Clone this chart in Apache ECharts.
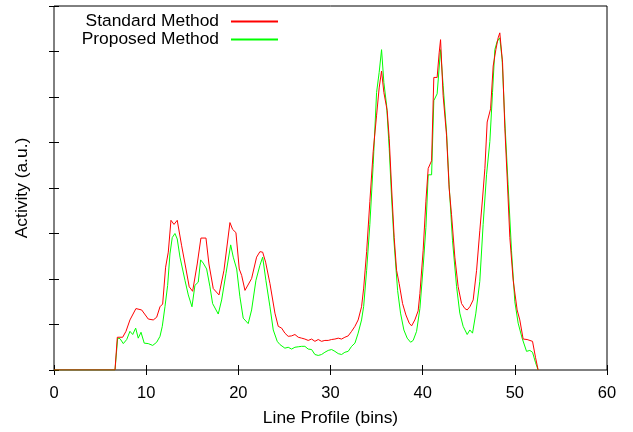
<!DOCTYPE html>
<html>
<head>
<meta charset="utf-8">
<script src="https://cdn.jsdelivr.net/npm/echarts@6/dist/echarts.min.js"></script>
<style>
html,body{margin:0;padding:0;background:#fff;}
#chart{width:633px;height:432px;}
</style>
</head>
<body>
<div id="chart"></div>
<script>
const seriesNames = ["Standard Method", "Proposed Method"];
const xTicks = [0, 10, 20, 30, 40, 50, 60];

const stdBins = [0,6.62,6.87,7.45,7.81,8.24,8.89,9.51,10.23,10.77,11.14,11.50,11.79,12.11,12.40,12.69,13.02,13.37,13.85,14.32,14.67,15.04,15.54,15.94,16.49,16.81,17.28,17.90,18.44,19.09,19.38,19.74,20.10,20.36,20.72,21.44,21.98,22.34,22.64,22.96,23.43,23.97,24.33,24.70,25.05,25.41,25.78,26.14,26.50,26.87,27.22,27.58,27.95,28.31,28.67,29.03,29.39,29.75,30.12,30.48,30.84,31.20,31.56,31.92,32.29,32.65,33.00,33.37,33.60,33.92,34.27,34.63,35.00,35.28,35.54,35.79,36.15,36.37,36.63,36.91,37.17,37.45,37.82,38.18,38.54,38.80,39.15,39.51,39.70,40.05,40.35,40.60,40.97,41.21,41.57,41.79,41.94,42.22,42.59,42.87,43.13,43.49,43.85,44.22,44.58,44.83,45.12,45.48,45.85,46.20,46.50,46.75,47.00,47.37,47.65,47.94,48.19,48.37,48.67,48.92,49.17,49.46,49.82,50.25,50.54,50.90,51.33,51.92,52.25,52.53];
const stdValues = [0,0,0.72,0.72,0.85,1.10,1.35,1.32,1.12,1.10,1.16,1.39,1.45,2.26,2.59,3.29,3.20,3.29,2.73,2.22,1.83,1.73,2.33,2.90,2.90,2.33,1.79,1.65,2.19,3.24,3.09,3.02,2.22,2.08,1.75,2.01,2.48,2.60,2.59,2.37,1.90,1.25,0.96,0.92,0.81,0.74,0.75,0.78,0.72,0.70,0.68,0.65,0.68,0.63,0.67,0.63,0.65,0.65,0.67,0.68,0.70,0.68,0.72,0.75,0.85,0.96,1.10,1.39,1.80,2.60,3.70,4.80,5.60,6.20,6.57,6.10,5.70,5.09,4.00,2.91,2.19,1.90,1.46,1.21,1.03,0.97,1.10,1.30,1.68,2.62,3.71,4.43,4.60,6.43,6.43,6.97,7.26,6.03,5.16,4.00,3.42,2.48,1.83,1.46,1.35,1.32,1.39,1.54,2.19,3.06,3.78,4.43,5.45,5.74,6.68,7.04,7.30,7.41,6.75,5.30,4.22,2.91,1.97,1.32,1.10,0.68,0.67,0.63,0.27,0];

const propBins = [0,6.62,6.91,7.16,7.52,7.89,8.24,8.54,8.86,9.14,9.44,9.79,10.23,10.71,11.14,11.50,11.75,12.04,12.33,12.58,12.83,13.12,13.37,13.67,14.21,14.57,14.97,15.29,15.65,15.91,16.19,16.56,16.92,17.21,17.82,18.19,18.66,19.17,19.45,19.82,20.17,20.53,21.07,21.44,21.91,22.34,22.64,22.99,23.43,23.79,24.22,24.51,24.70,25.05,25.41,25.78,26.14,26.50,26.87,27.22,27.58,27.95,28.31,28.67,29.03,29.39,29.75,30.12,30.48,30.84,31.20,31.56,31.92,32.29,32.65,33.00,33.37,33.60,33.92,34.27,34.63,35.00,35.28,35.54,35.79,36.09,36.37,36.63,36.91,37.28,37.60,37.96,38.32,38.69,38.97,39.34,39.70,40.05,40.35,40.60,40.97,41.21,41.57,41.94,42.22,42.59,42.87,43.24,43.68,44.03,44.39,44.83,45.12,45.41,45.77,46.20,46.56,46.93,47.29,47.58,47.83,48.08,48.37,48.62,48.92,49.27,49.64,50.00,50.36,50.79,51.27,51.63,51.92,52.25,52.53];
const propValues = [0,0,0.70,0.69,0.58,0.67,0.85,0.78,0.92,0.70,0.83,0.59,0.58,0.54,0.61,0.74,0.96,1.39,1.86,2.55,2.91,3.00,2.88,2.48,1.97,1.65,1.39,1.86,1.93,2.42,2.35,2.22,1.83,1.46,1.23,1.54,2.12,2.75,2.48,2.22,1.61,1.14,1.02,1.32,1.97,2.30,2.48,1.97,1.39,0.88,0.63,0.56,0.52,0.48,0.50,0.46,0.50,0.51,0.52,0.52,0.46,0.45,0.34,0.32,0.34,0.39,0.43,0.45,0.41,0.36,0.34,0.39,0.41,0.52,0.59,0.81,1.10,1.40,2.19,3.20,4.51,6.10,6.54,7.04,6.32,5.81,4.87,3.78,2.77,1.75,1.25,0.88,0.70,0.61,0.65,0.85,1.35,2.26,3.13,4.29,4.29,5.92,6.07,7.04,6.25,5.23,4.07,2.84,1.83,1.25,0.96,0.78,0.88,0.81,1.25,1.95,3.20,4.29,5.02,6.10,7.04,7.22,7.30,6.83,5.45,4.07,2.62,1.50,1.03,0.70,0.41,0.43,0.39,0.16,0];

const pair = (xs, ys) => xs.map((x, i) => [x, ys[i]]);
const FONT = "Liberation Sans";

const chart = echarts.init(document.getElementById('chart'), null, {renderer: 'canvas'});
const tickStyle = {show: true, inside: true, length: 5, lineStyle: {color: '#000', width: 1}};
chart.setOption({
  animation: false,
  backgroundColor: '#fff',
  grid: {left: 54, right: 26, top: 6, bottom: 58, show: true, borderColor: '#000', borderWidth: 1, backgroundColor: 'transparent'},
  legend: {
    data: seriesNames,
    orient: 'vertical',
    align: 'right',
    right: 354,
    top: 13,
    padding: 0,
    itemWidth: 47,
    itemHeight: 14,
    itemGap: 1,
    itemStyle: {opacity: 0},
    textStyle: {fontFamily: FONT, fontSize: 17.4, color: '#000', padding: [0, 7, 0, 0]}
  },
  xAxis: [{
    type: 'value', min: 0, max: 60, interval: 10,
    axisLine: {show: false}, splitLine: {show: false},
    axisTick: tickStyle,
    axisLabel: {fontFamily: FONT, fontSize: 16.5, color: '#000', margin: 15, formatter: v => xTicks.includes(v) ? String(v) : ''},
    name: 'Line Profile (bins)', nameLocation: 'middle', nameGap: 40,
    nameTextStyle: {fontFamily: FONT, fontSize: 17.4, color: '#000'}
  }, {
    type: 'value', position: 'top', min: 0, max: 60, interval: 10,
    axisLine: {show: false}, splitLine: {show: false},
    axisTick: tickStyle, axisLabel: {show: false}
  }],
  yAxis: [{
    type: 'value', min: 0, max: 8, interval: 1,
    axisLine: {show: false}, splitLine: {show: false},
    axisTick: tickStyle, axisLabel: {show: false},
    name: 'Activity (a.u.)', nameLocation: 'middle', nameGap: 23, nameRotate: 90,
    nameTextStyle: {fontFamily: FONT, fontSize: 17.4, color: '#000'}
  }, {
    type: 'value', position: 'right', min: 0, max: 8, interval: 1,
    axisLine: {show: false}, splitLine: {show: false},
    axisTick: tickStyle, axisLabel: {show: false}
  }],
  series: [{
    name: seriesNames[0], type: 'line', symbol: 'none', showSymbol: false,
    data: pair(stdBins, stdValues),
    lineStyle: {color: '#ff0000', width: 1}, itemStyle: {color: '#ff0000'}, z: 3
  }, {
    name: seriesNames[1], type: 'line', symbol: 'none', showSymbol: false,
    data: pair(propBins, propValues),
    lineStyle: {color: '#00ff00', width: 1}, itemStyle: {color: '#00ff00'}, z: 2
  }]
});
</script>
</body>
</html>
